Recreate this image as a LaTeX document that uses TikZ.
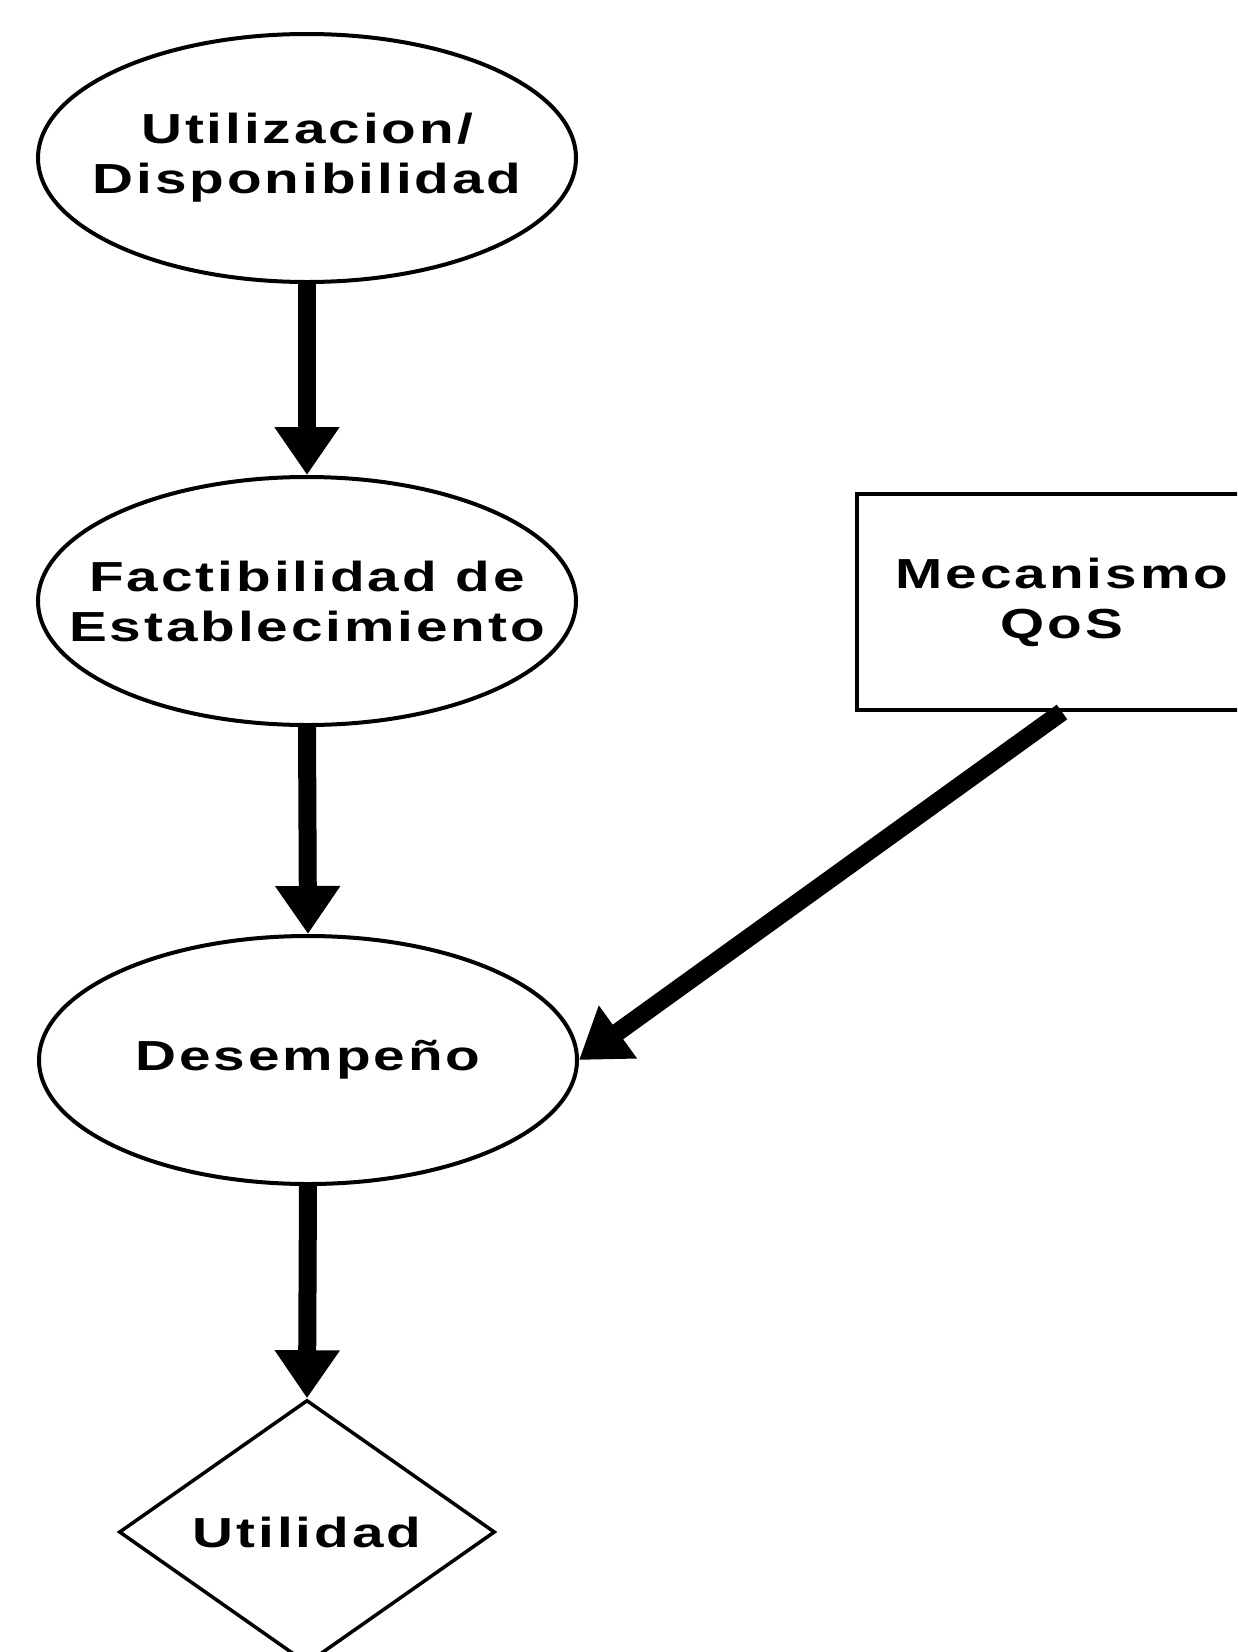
\documentclass[tikz,border=0pt]{standalone}
\usepackage{fontspec}
\usetikzlibrary{shapes.geometric,arrows.meta}
\newfontfamily\diagfont{Liberation Sans}[FakeStretch=1.35,LetterSpace=7]
\begin{document}
\begin{tikzpicture}[x=1pt,y=-1pt,
  every node/.style={font=\diagfont\bfseries\fontsize{42}{50}\selectfont,align=center,inner sep=0pt},
  stage/.style={ellipse,draw,line width=4pt,minimum width=538pt,minimum height=248pt},
  mech/.style={rectangle,draw,line width=4pt,minimum width=410pt,minimum height=216pt},
  goal/.style={diamond,draw,line width=3.5pt,minimum width=376pt,minimum height=264pt},
  flow/.style={line width=18pt,-{Triangle[length=48pt,width=62pt]}}]
  \useasboundingbox (0,0) rectangle (1237,1652);
  \clip (0,0) rectangle (1237,1652);
  \fill[white] (0,0) rectangle (1237,1652);

  % stages of the chain, each an ellipse with its caption set in the middle
  \node[stage,label={[name=util-text]center:Utilizacion/\\Disponibilidad}] (util) at (307,158) {};
  \node[stage,label={[name=fact-text]center:Factibilidad de\\Establecimiento}] (fact) at (307,601) {};
  \node[stage,label={[name=perf-text]center:Desempeño}] (perf) at (308,1060) {};
  \node[goal]  (value) at (307,1532) {Utilidad};
  \node[mech]  (qos) at (1062,602) {Mecanismo\\QoS};

  \draw[flow] (util.south) -- (fact.north);
  \draw[flow] (fact.south) -- (perf.north);
  \draw[flow] (perf.south) -- (value.north);
  \draw[flow] (qos.south) -- (perf.east);
\end{tikzpicture}
\end{document}
